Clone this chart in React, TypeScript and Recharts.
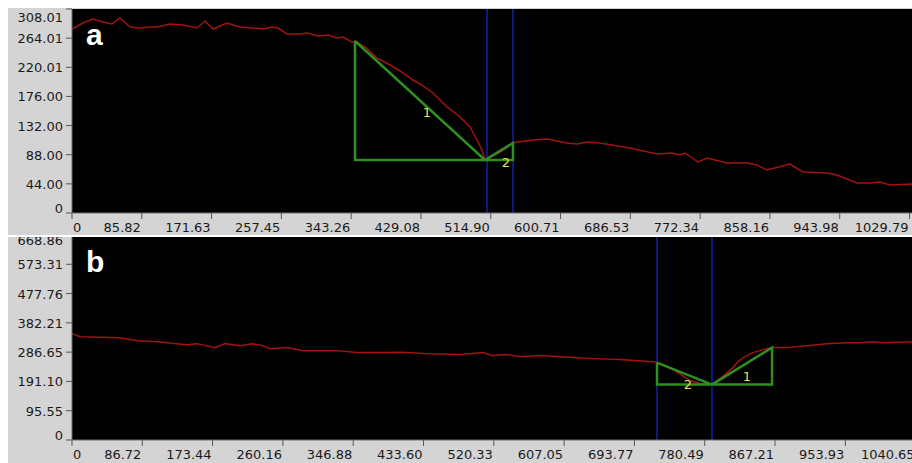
import React from 'react';
import { LineChart, Line, XAxis, YAxis, CartesianGrid, ReferenceLine, ReferenceDot } from 'recharts';

// panel a: trace of the red curve
const A_X = [0, 13.5, 25.8, 38.1, 49.2, 59, 71.3, 83.6, 95.9, 104.5, 120.5, 136.5, 153.7, 163.5, 173.4, 190.6, 206.6, 222.6, 234.8, 245.9, 253.3, 264.4, 280.3, 288.9, 302.5, 314.8, 325.8, 333.2, 344.3, 348,
  360.3, 375, 391, 403.3, 419.3, 431.6, 443.9, 461.1, 477.1, 489.4, 498, 504.1, 507.8,
  520.1, 532.4, 542.2, 547.1, 566.8, 584, 596.3, 608.6, 620.9, 633.2, 649.2, 686.1, 719.3, 737.7, 747.6, 753.7, 769.7, 780.8, 805.4, 830, 842.2, 854.5, 882.8, 898.8, 928.3, 940.6, 965.2, 981.2, 993.5, 1005.8, 1032.8];
const A_Y = [277.8, 286.9, 292.9, 288.4, 285.4, 294.4, 280.8, 279.3, 280.8, 280.8, 285.4, 283.9, 279.3, 289.9, 277.8, 286.9, 280.8, 279.3, 277.8, 280.8, 279.3, 270.3, 270.3, 271.8, 267.3, 268.8, 264.2, 265.7, 258.2, 259.7,
  250.6, 234, 223.5, 214.4, 200.8, 191.8, 181.2, 160.1, 145, 129.9, 110.2, 95.1, 80,
  87.6, 96.6, 105.7, 107.2, 110.2, 111.7, 108.7, 105.7, 104.2, 107.2, 105.7, 98.1, 89.1, 90.6, 87.6, 90.6, 77, 83, 75.5, 75.5, 72.5, 64.9, 74, 61.9, 60.4, 57.4, 45.3, 45.3, 46.8, 42.3, 43.8];

const A_TRI1_X = [348, 348, 507.8, 348];
const A_TRI1_Y = [259.7, 80, 80, 259.7];
const A_TRI2_X = [507.8, 542.2, 542.2, 507.8];
const A_TRI2_Y = [80, 80, 105.7, 80];
const A_CURSORS = [510.3, 542.2];
const A_MARKS = [{ x: 436.5, y: 152.5, t: '1' }, { x: 533.6, y: 77, t: '2' }];
const A_X_TICKS = [0, 85.82, 171.63, 257.45, 343.26, 429.08, 514.9, 600.71, 686.53, 772.34, 858.16, 943.98, 1029.79];
const A_Y_TICKS = [0, 44, 88, 132, 176, 220.01, 264.01, 308.01];

// panel b
const B_X = [0, 9.9, 34.5, 59.2, 80.2, 104.8, 141.9, 154.2, 176.4, 188.7, 207.2, 222, 235.6, 244.2, 265.2, 284.9, 326.9, 351.5, 367.6, 379.9, 408.3, 437.9, 478.6, 507, 519.3, 536.6, 552.6, 577.3, 618, 642.7, 676, 716.7, 721.6,
  743.8, 762.3, 774.6, 789.4,
  805.5, 815.4, 821.6, 827.8, 840, 857.3, 863.5, 882, 906.7, 931.3, 956, 972, 988.1, 1000.4, 1036.2];
const B_Y = [347, 337.2, 335.6, 333.9, 324.2, 320.9, 311.1, 314.4, 301.4, 314.4, 307.9, 314.4, 307.9, 298.1, 301.4, 291.6, 291.6, 285.1, 285.1, 285.1, 286.7, 281.8, 278.6, 285.1, 275.3, 278.6, 272, 275.3, 268.8, 265.5, 262.3, 255.7, 252.5,
  226.4, 193.9, 184.1, 180.8,
  213.4, 236.2, 255.7, 268.8, 285.1, 298.1, 301.4, 301.4, 307.9, 314.4, 317.7, 317.7, 320.9, 317.7, 320.9];

const B_TRI1_X = [789.4, 863.5, 863.5, 789.4];
const B_TRI1_Y = [180.8, 180.8, 301.4, 180.8];
const B_TRI2_X = [721.6, 721.6, 789.4, 721.6];
const B_TRI2_Y = [252.5, 180.8, 180.8, 252.5];
const B_CURSORS = [721.6, 789.4];
const B_MARKS = [{ x: 832.6, y: 206.9, t: '1' }, { x: 759.8, y: 180.8, t: '2' }];
const B_X_TICKS = [0, 86.72, 173.44, 260.16, 346.88, 433.6, 520.33, 607.05, 693.77, 780.49, 867.21, 953.93, 1040.65];
const B_Y_TICKS = [0, 95.55, 191.1, 286.65, 382.21, 477.76, 573.31, 668.86];

const pts = (xs: number[], ys: number[]) => xs.map((x, i) => ({ x, y: ys[i] }));

const FONT = 'DejaVu Sans';
const GRAY = '#d4d4d4';

const fmt = (v: number) => (v === 0 ? '0' : v.toFixed(2));

type PanelProps = {
  top: number;
  boxH: number;
  shift: number;
  marginTop: number;
  plotH: number;
  width: number;
  yTicks: number[];
  xTicks: number[];
  curve: { x: number; y: number }[];
  tris: { x: number; y: number }[][];
  cursors: number[];
  marks: { x: number; y: number; t: string }[];
  letter: string;
  letterTop: number;
  topDy: number;
};

const Panel = (p: PanelProps) => {
  const yMax = p.yTicks[p.yTicks.length - 1];
  const bottom = p.marginTop + p.plotH;
  const xTick = (t: any) => {
    const v = t.payload.value;
    const zero = v === 0;
    return (
      <text x={zero ? t.x + 1 : t.x - 1} y={bottom + 19} textAnchor={zero ? 'start' : 'end'} fontFamily={FONT} fontSize={13} fill="#1a1a1a">
        {fmt(v)}
      </text>
    );
  };
  const yTick = (t: any) => {
    const v = t.payload.value;
    let dy = 5;
    if (v === 0) dy = 0;
    if (v === yMax) dy = p.topDy;
    return (
      <text x={55} y={t.y + dy} textAnchor="end" fontFamily={FONT} fontSize={13} fill="#1a1a1a">
        {fmt(v)}
      </text>
    );
  };
  return (
    <div style={{ position: 'absolute', left: 8, top: p.top, width: 904, height: p.boxH, overflow: 'hidden', background: GRAY }}>
      <div style={{ position: 'absolute', left: 0, top: p.shift }}>
        <LineChart width={p.width} height={bottom + 22} margin={{ top: p.marginTop, right: 0, left: 0, bottom: 0 }}>
          <CartesianGrid fill="#000" fillOpacity={1} horizontal={false} vertical={false} />
          <XAxis type="number" dataKey="x" domain={[0, 1100]} ticks={p.xTicks} interval={0} height={22} tickSize={6}
            axisLine={{ stroke: '#6e6e6e' }} tickLine={{ stroke: '#555' }} tick={xTick} allowDataOverflow />
          <YAxis type="number" domain={[0, yMax]} ticks={p.yTicks} interval={0} width={64} tickSize={6}
            axisLine={{ stroke: '#6e6e6e' }} tickLine={{ stroke: '#555' }} tick={yTick} allowDataOverflow />
          {p.cursors.map((c) => (
            <ReferenceLine key={c} x={c} stroke="#0d1a7a" strokeWidth={2} />
          ))}
          <Line data={p.curve} dataKey="y" type="linear" stroke="#a31212" strokeWidth={1.5} dot={false} activeDot={false} isAnimationActive={false} />
          {p.tris.map((tri, i) => (
            <Line key={i} data={tri} dataKey="y" type="linear" stroke="#2f8f1f" strokeWidth={2.5} dot={false} activeDot={false} isAnimationActive={false} />
          ))}
          {p.marks.map((m) => (
            <ReferenceDot key={m.t} x={m.x} y={m.y} r={0} fill="none" stroke="none"
              label={{ value: m.t, position: 'center', fill: '#e4e05a', fontSize: 13, fontFamily: FONT }} />
          ))}
        </LineChart>
      </div>
      <div style={{ position: 'absolute', left: 78, top: p.letterTop, color: '#fff', fontFamily: 'Liberation Sans, Arial, sans-serif', fontWeight: 'bold', fontSize: 30, lineHeight: '30px' }}>
        {p.letter}
      </div>
    </div>
  );
};

export default function App() {
  return (
    <div style={{ position: 'absolute', left: 0, top: 0, width: 912, height: 463, overflow: 'hidden', background: '#fff' }}>
      <Panel top={8} boxH={227} shift={0} marginTop={1} plotH={204} width={64 + 1100 * 0.8133}
        yTicks={A_Y_TICKS} xTicks={A_X_TICKS} curve={pts(A_X, A_Y)}
        tris={[pts(A_TRI1_X, A_TRI1_Y), pts(A_TRI2_X, A_TRI2_Y)]} cursors={A_CURSORS} marks={A_MARKS}
        letter="a" letterTop={12} topDy={13} />
      <Panel top={237} boxH={226} shift={-4} marginTop={2} plotH={205} width={64 + 1100 * 0.8107}
        yTicks={B_Y_TICKS} xTicks={B_X_TICKS} curve={pts(B_X, B_Y)}
        tris={[pts(B_TRI1_X, B_TRI1_Y), pts(B_TRI2_X, B_TRI2_Y)]} cursors={B_CURSORS} marks={B_MARKS}
        letter="b" letterTop={10} topDy={10} />
    </div>
  );
}
